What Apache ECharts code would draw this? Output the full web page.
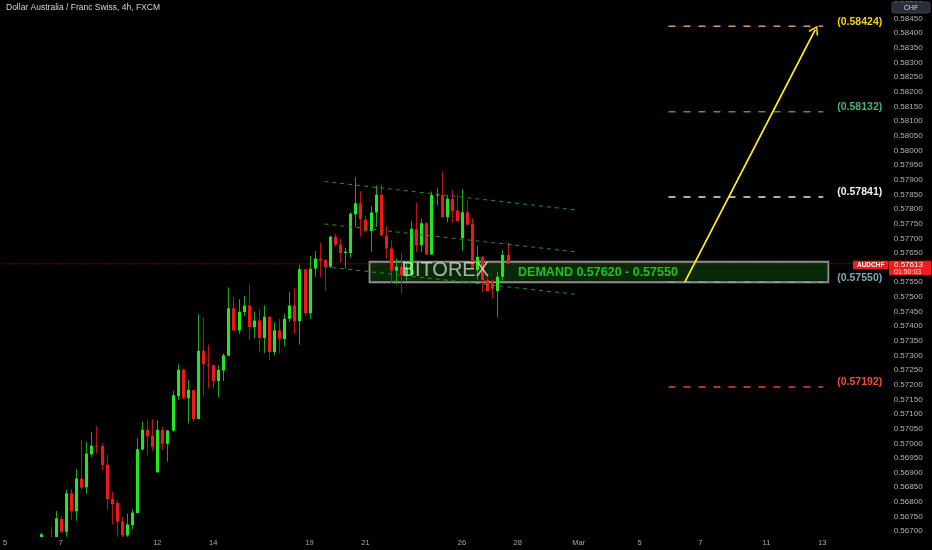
<!DOCTYPE html>
<html><head><meta charset="utf-8">
<script src="https://cdn.jsdelivr.net/npm/echarts@6/dist/echarts.min.js"></script>
<style>html,body{margin:0;padding:0;background:#000}#c{width:932px;height:550px}</style>
</head><body><div id="c"></div>
<script>
// ---- data (AUDCHF 4h candles, index 0 = first candle on screen) ----
const candleOpen = [0.56653,0.56660,0.56670,0.56667,0.56742,0.56698,0.56830,0.56768,0.56880,0.56850,
0.56963,0.56992,0.56991,0.56927,0.56811,0.56796,0.56734,0.56685,0.56721,0.56762,
0.56979,0.57046,0.57026,0.56901,0.57046,0.56999,0.57043,0.57162,0.57252,0.57154,
0.57182,0.57083,0.57316,0.57269,0.57267,0.57213,0.57249,0.57299,0.57461,0.57385,
0.57448,0.57471,0.57396,0.57419,0.57360,0.57432,0.57312,0.57386,0.57356,0.57425,
0.57471,0.57417,0.57594,0.57444,0.57597,0.57629,0.57627,0.57603,0.57705,0.57678,
0.57650,0.57650,0.57782,0.57820,0.57763,0.57725,0.57788,0.57849,0.57708,0.57665,
0.57589,0.57603,0.57576,0.57575,0.57733,0.57676,0.57751,0.57645,0.57847,0.57848,
0.57772,0.57835,0.57795,0.57701,0.57789,0.57749,0.57592,0.57637,0.57558,0.57545,
0.57520,0.57569,0.57643];
const candleHigh = [0.56694,0.56672,0.56715,0.56769,0.56751,0.56842,0.56844,0.56912,0.57012,0.57005,
0.57040,0.57060,0.57000,0.56962,0.56835,0.56806,0.56749,0.56761,0.56774,0.57017,
0.57074,0.57080,0.57083,0.57080,0.57058,0.57046,0.57180,0.57269,0.57256,0.57216,
0.57183,0.57441,0.57430,0.57337,0.57270,0.57266,0.57307,0.57533,0.57501,0.57492,
0.57503,0.57543,0.57450,0.57460,0.57471,0.57433,0.57414,0.57425,0.57443,0.57518,
0.57532,0.57609,0.57595,0.57640,0.57656,0.57685,0.57628,0.57708,0.57716,0.57699,
0.57667,0.57789,0.57908,0.57861,0.57778,0.57810,0.57881,0.57884,0.57742,0.57692,
0.57631,0.57650,0.57623,0.57758,0.57823,0.57767,0.57755,0.57860,0.57871,0.57929,
0.57848,0.57866,0.57849,0.57868,0.57832,0.57769,0.57674,0.57638,0.57577,0.57559,
0.57586,0.57660,0.57685];
const candleLow = [0.56643,0.56610,0.56636,0.56653,0.56693,0.56681,0.56738,0.56736,0.56844,0.56828,
0.56953,0.56964,0.56908,0.56775,0.56724,0.56681,0.56675,0.56675,0.56706,0.56760,
0.56975,0.56959,0.56975,0.56899,0.56978,0.56938,0.57040,0.57147,0.57152,0.57068,
0.57074,0.57082,0.57160,0.57187,0.57188,0.57156,0.57213,0.57298,0.57384,0.57373,
0.57434,0.57353,0.57360,0.57310,0.57308,0.57284,0.57301,0.57307,0.57332,0.57414,
0.57373,0.57337,0.57436,0.57424,0.57569,0.57566,0.57520,0.57599,0.57671,0.57617,
0.57597,0.57634,0.57739,0.57705,0.57722,0.57654,0.57739,0.57708,0.57631,0.57546,
0.57544,0.57511,0.57555,0.57574,0.57654,0.57654,0.57644,0.57644,0.57812,0.57772,
0.57755,0.57755,0.57757,0.57656,0.57745,0.57596,0.57558,0.57516,0.57518,0.57495,
0.57431,0.57555,0.57612];
const candleClose = [0.56690,0.56625,0.56650,0.56744,0.56697,0.56830,0.56768,0.56880,0.56849,0.56965,
0.56992,0.56990,0.56926,0.56810,0.56793,0.56732,0.56685,0.56723,0.56764,0.56980,
0.57046,0.57024,0.56988,0.57046,0.56999,0.57044,0.57164,0.57251,0.57154,0.57182,
0.57083,0.57316,0.57271,0.57265,0.57213,0.57250,0.57301,0.57461,0.57385,0.57449,
0.57471,0.57396,0.57419,0.57360,0.57432,0.57312,0.57386,0.57356,0.57425,0.57471,
0.57417,0.57594,0.57444,0.57596,0.57631,0.57623,0.57603,0.57705,0.57678,0.57650,
0.57654,0.57784,0.57820,0.57765,0.57725,0.57788,0.57849,0.57710,0.57665,0.57589,
0.57603,0.57575,0.57600,0.57733,0.57676,0.57751,0.57645,0.57848,0.57850,0.57772,
0.57835,0.57793,0.57758,0.57789,0.57746,0.57597,0.57637,0.57558,0.57520,0.57528,
0.57569,0.57643,0.57613];

// time axis ticks (candle index where each day starts) and their labels
const dayTickIdx    = [-7, 4, 23, 34, 53, 64, 83, 94, 106, 118, 130, 143, 154];
const dayTickLabels = ['5','7','12','14','19','21','26','28','Mar','5','7','11','13'];
const viewFirstIdx = -7, viewLastIdx = 166;

// price view
const priceMin = 0.566802, priceMax = 0.585018;
const currentPrice = 0.57613;

// drawings
const channelX   = [55.9, 105.3];
const channelTop = [0.57894, 0.57797];
const channelMid = [0.57749, 0.57654];
const channelBot = [0.57603, 0.57509];
const levelPrices = [0.58424, 0.58132, 0.57841, 0.57550, 0.57192];
const levelX = [123.7, 154.2];
const demandTop = 0.57620, demandBottom = 0.57550;
const demandX = [64.8, 155.2];
const arrowFrom = [126.9, 0.57550], arrowTo = [152.6, 0.58412];
const priceLineX = [-7.5, 163.4];

// styles
const levelLine  = ['#e0955a', '#3a9a5c', '#e6e6e6', '#8da6a8', '#e04a38'];
const levelText  = ['#f2cf12', '#4db071', '#f2f2f2', '#7ea8b6', '#f0502e'];

const categories = [];
for (let i = viewFirstIdx; i <= viewLastIdx; i++) {
  const k = dayTickIdx.indexOf(i);
  categories.push(k >= 0 ? dayTickLabels[k] : '');
}

const chart = echarts.init(document.getElementById('c'), null, {renderer: 'canvas'});
const FF = 'Liberation Sans, Arial, sans-serif';

const series = [];

// demand zone box
series.push({
  type: 'custom', xAxisIndex: 1, yAxisIndex: 0, z: 1, silent: true,
  data: [[demandX[0], demandX[1], demandTop, demandBottom]],
  renderItem(params, api) {
    const p0 = api.coord([api.value(0), api.value(2)]);
    const p1 = api.coord([api.value(1), api.value(3)]);
    return {type: 'rect', shape: {x: p0[0], y: p0[1], width: p1[0]-p0[0], height: p1[1]-p0[1]},
      style: {fill: 'rgba(18,95,18,0.42)', stroke: '#8f8f8f', lineWidth: 1.8}};
  }
});

// candles
series.push({
  type: 'custom', xAxisIndex: 1, yAxisIndex: 0, z: 3, clip: true, silent: true,
  data: candleOpen.map((o, i) => [i, o, candleClose[i], candleLow[i], candleHigh[i]]),
  encode: {x: 0, y: [1, 2, 3, 4]},
  renderItem(params, api) {
    const x = api.value(0), o = api.value(1), c = api.value(2), l = api.value(3), h = api.value(4);
    const pO = api.coord([x, o]), pC = api.coord([x, c]), pL = api.coord([x, l]), pH = api.coord([x, h]);
    const up = c >= o;
    const cx = Math.round(pO[0]) + 0.5;
    const top = Math.min(pO[1], pC[1]), bot = Math.max(pO[1], pC[1]);
    return {type: 'group', children: [
      {type: 'line', shape: {x1: cx, y1: pH[1], x2: cx, y2: pL[1]},
        style: {stroke: up ? '#18a818' : '#b81414', lineWidth: 1}},
      {type: 'rect', shape: {x: cx - 1.5, y: top, width: 3, height: Math.max(bot - top, 1)},
        style: {fill: up ? '#1fe81f' : '#f21616'}}
    ]};
  }
});

// channel lines
[channelTop, channelMid, channelBot].forEach(ch => {
  series.push({
    type: 'line', xAxisIndex: 1, yAxisIndex: 0, z: 4, silent: true, symbol: 'none',
    data: [[channelX[0], ch[0]], [channelX[1], ch[1]]],
    lineStyle: {color: '#1f951f', width: 1, type: [4, 4]}
  });
});

// current price dotted line
series.push({
  type: 'line', xAxisIndex: 1, yAxisIndex: 0, z: 2, silent: true, symbol: 'none',
  data: [[priceLineX[0], currentPrice], [priceLineX[1], currentPrice]],
  lineStyle: {color: '#b02020', width: 1, type: [1, 2]}
});

// target / stop levels
levelPrices.forEach((p, k) => {
  series.push({
    type: 'line', xAxisIndex: 1, yAxisIndex: 0, z: 5, silent: true, symbol: 'none',
    data: [[levelX[0], p], [levelX[1], p]],
    lineStyle: {color: levelLine[k], width: 1.5, type: [7, 8]},
    endLabel: {show: true, distance: 14, offset: [0, -4.5], formatter: () => '(' + p.toFixed(5) + ')',
      color: levelText[k], fontSize: 10.5, fontWeight: 'bold', fontFamily: FF}
  });
});

// projection arrow
series.push({
  type: 'line', xAxisIndex: 1, yAxisIndex: 0, z: 6, silent: true, symbol: 'none',
  data: [arrowFrom, arrowTo],
  lineStyle: {color: '#ffe817', width: 1.5},
  markLine: {
    silent: true, animation: false,
    symbol: ['none', 'path://M0,10 L5,0 L10,10 L8.6,10.7 L5,3 L1.4,10.7 Z'],
    symbolSize: [11, 9],
    label: {show: false},
    lineStyle: {color: '#ffe817', width: 1.5, type: 'solid'},
    data: [[{coord: arrowFrom}, {coord: arrowTo}]]
  }
});

// texts in the demand box
series.push({
  type: 'scatter', xAxisIndex: 1, yAxisIndex: 0, z: 7, silent: true, symbolSize: 0,
  data: [[79.73, 0.57590]],
  label: {show: true, position: 'inside', formatter: 'BITOREX', color: 'rgba(232,232,232,0.9)',
    fontSize: 20, fontFamily: FF}
});
series.push({
  type: 'scatter', xAxisIndex: 1, yAxisIndex: 0, z: 7, silent: true, symbolSize: 0,
  data: [[94.07, 0.57582]],
  label: {show: true, position: 'right', distance: 0,
    formatter: 'DEMAND ' + demandTop.toFixed(5) + ' - ' + demandBottom.toFixed(5),
    color: '#27e627', fontSize: 12.5, fontWeight: 'bold', fontFamily: FF}
});

chart.setOption({
  backgroundColor: '#000000',
  animation: false,
  title: {text: 'Dollar Australia / Franc Swiss, 4h, FXCM', left: 6, top: 3, padding: 0,
    textStyle: {color: '#d4d4d4', fontSize: 8.5, fontWeight: 'normal', fontFamily: FF}},
  grid: {left: 0, right: 46.3, top: 0, height: 537, containLabel: false},
  xAxis: [
    {type: 'category', data: categories, boundaryGap: true,
      axisLine: {show: false}, axisTick: {show: false}, splitLine: {show: false},
      axisLabel: {interval: (i, v) => v !== '', margin: 2, color: '#a8a8a8', fontSize: 7.5, fontFamily: FF}},
    {type: 'value', show: false, min: viewFirstIdx - 0.5, max: viewLastIdx + 0.5}
  ],
  yAxis: [{
    type: 'value', position: 'right', min: priceMin, max: priceMax, splitNumber: 36, scale: true,
    axisLine: {show: false}, axisTick: {show: false}, splitLine: {show: false},
    axisLabel: {margin: 8, color: '#b4b4b4', fontSize: 8, fontFamily: FF,
      showMinLabel: false, showMaxLabel: false, formatter: v => v.toFixed(5)}
  }],
  series
});

// price tags on the right side, placed at the current price through the y scale
const py = chart.convertToPixel({yAxisIndex: 0}, currentPrice);
chart.setOption({
  graphic: [
    {type: 'rect', z: 100, shape: {x: 892, y: 2, width: 38, height: 11, r: 2},
      style: {fill: '#2a2e39', stroke: '#3c4150', lineWidth: 1}},
    {type: 'text', z: 101, x: 911, y: 7.7, style: {text: 'CHF', fill: '#d1d4dc', fontSize: 7,
      fontFamily: FF, align: 'center', verticalAlign: 'middle'}},
    {type: 'rect', z: 100, shape: {x: 853, y: py - 3, width: 35.5, height: 8.5},
      style: {fill: '#f01c1c'}},
    {type: 'text', z: 101, x: 870.7, y: py + 1.3, style: {text: 'AUDCHF', fill: '#ffffff', fontSize: 6.5,
      fontWeight: 'bold', fontFamily: FF, align: 'center', verticalAlign: 'middle'}},
    {type: 'rect', z: 100, shape: {x: 889, y: py - 3, width: 42, height: 14.5},
      style: {fill: '#f01c1c'}},
    {type: 'text', z: 101, x: 894, y: py + 1.2, style: {text: currentPrice.toFixed(5), fill: '#ffffff',
      fontSize: 8, fontFamily: FF, align: 'left', verticalAlign: 'middle'}},
    {type: 'text', z: 101, x: 894, y: py + 7.8, style: {text: '01:50:03', fill: '#ffe0e0',
      fontSize: 7, fontFamily: FF, align: 'left', verticalAlign: 'middle'}}
  ]
});
</script>
</body></html>
